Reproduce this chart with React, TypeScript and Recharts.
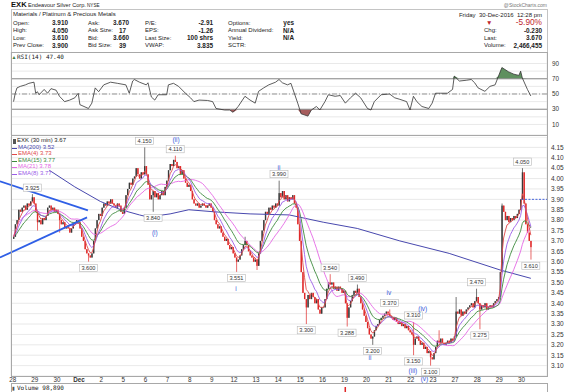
import React from 'react';
import { ComposedChart, Bar, Line, Area, XAxis, YAxis, CartesianGrid, ReferenceLine, ReferenceDot } from 'recharts';

const FONT = '"Liberation Sans", Arial, Helvetica, sans-serif';
const MONO = '"DejaVu Sans Mono", "Liberation Mono", monospace';

// ---------------- data ----------------
const dayLabels = ['28', '29', '30', 'Dec', '2', '5', '6', '7', '8', '9', '12', '13', '14', '15', '16', '19', '20', '21', '22', '23', '27', '28', '29', '30'];

// 30-minute closes, 13 bars per session (last session partial)
const dayCloses: number[][] = [
  [3.72, 3.78, 3.80, 3.85, 3.84, 3.86, 3.87, 3.85, 3.88, 3.87, 3.89, 3.91, 3.88],
  [3.84, 3.79, 3.80, 3.78, 3.81, 3.80, 3.82, 3.86, 3.87, 3.85, 3.86, 3.84, 3.85],
  [3.83, 3.80, 3.78, 3.79, 3.76, 3.77, 3.76, 3.74, 3.76, 3.78, 3.79, 3.80, 3.79],
  [3.76, 3.72, 3.70, 3.66, 3.64, 3.63, 3.62, 3.64, 3.70, 3.76, 3.80, 3.83, 3.82],
  [3.86, 3.88, 3.87, 3.89, 3.88, 3.90, 3.88, 3.87, 3.86, 3.88, 3.87, 3.84, 3.83],
  [3.86, 3.92, 3.95, 3.98, 3.97, 4.00, 4.01, 4.05, 4.02, 4.00, 4.03, 4.02, 4.06],
  [4.02, 3.97, 3.90, 3.92, 3.94, 3.91, 3.93, 3.90, 3.92, 3.94, 3.92, 3.96, 3.99],
  [4.04, 4.07, 4.06, 4.09, 4.08, 4.05, 4.06, 4.02, 4.04, 4.00, 3.98, 3.96, 3.97],
  [3.94, 3.90, 3.88, 3.87, 3.88, 3.86, 3.87, 3.88, 3.87, 3.86, 3.87, 3.88, 3.86],
  [3.84, 3.80, 3.78, 3.76, 3.77, 3.74, 3.72, 3.70, 3.71, 3.68, 3.66, 3.67, 3.64],
  [3.62, 3.60, 3.61, 3.63, 3.66, 3.68, 3.70, 3.68, 3.65, 3.63, 3.62, 3.60, 3.61],
  [3.58, 3.64, 3.70, 3.75, 3.80, 3.84, 3.83, 3.86, 3.85, 3.87, 3.86, 3.88, 3.87],
  [3.93, 3.91, 3.94, 3.90, 3.92, 3.89, 3.91, 3.90, 3.92, 3.88, 3.86, 3.78, 3.70],
  [3.55, 3.45, 3.42, 3.38, 3.44, 3.42, 3.45, 3.43, 3.40, 3.42, 3.37, 3.35, 3.38],
  [3.38, 3.42, 3.47, 3.50, 3.49, 3.50, 3.47, 3.48, 3.46, 3.48, 3.47, 3.45, 3.46],
  [3.40, 3.33, 3.38, 3.41, 3.44, 3.46, 3.45, 3.47, 3.43, 3.40, 3.37, 3.34, 3.31],
  [3.28, 3.25, 3.23, 3.24, 3.27, 3.29, 3.30, 3.32, 3.33, 3.34, 3.35, 3.36, 3.35],
  [3.34, 3.33, 3.32, 3.33, 3.31, 3.30, 3.31, 3.29, 3.30, 3.28, 3.29, 3.27, 3.26],
  [3.25, 3.20, 3.23, 3.24, 3.22, 3.20, 3.21, 3.18, 3.19, 3.16, 3.17, 3.14, 3.13],
  [3.16, 3.19, 3.22, 3.21, 3.23, 3.21, 3.20, 3.21, 3.22, 3.21, 3.23, 3.22, 3.24],
  [3.36, 3.35, 3.37, 3.34, 3.36, 3.35, 3.37, 3.38, 3.39, 3.40, 3.38, 3.41, 3.43],
  [3.40, 3.37, 3.39, 3.38, 3.40, 3.37, 3.38, 3.39, 3.38, 3.40, 3.41, 3.42, 3.43],
  [3.55, 3.87, 3.84, 3.80, 3.82, 3.79, 3.81, 3.80, 3.82, 3.81, 3.83, 3.85, 3.90],
  [4.03, 3.88, 3.78, 3.74, 3.70, 3.67],
];
const firstOpen = 3.71;

// [bar index, price]
const wickHighs: [number, number][] = [
  [11, 3.925], [77, 4.15], [95, 4.11], [136, 3.72], [156, 3.99], [186, 3.54], [202, 3.49],
  [221, 3.37], [235, 3.31], [250, 3.27], [260, 3.43], [272, 3.47], [287, 3.88], [299, 4.05],
];
const wickLows: [number, number][] = [
  [14, 3.75], [27, 3.74], [44, 3.60], [82, 3.84], [131, 3.551], [143, 3.56], [172, 3.30],
  [196, 3.288], [211, 3.20], [235, 3.15], [245, 3.10], [274, 3.275], [304, 3.61],
];

// MA(200) read at points [bar, value]
const ma200Points: [number, number][] = [
  [21, 4.04], [36, 3.96], [51, 3.89], [63, 3.85], [74, 3.825], [79, 3.815], [92, 3.83], [103, 3.85],
  [118, 3.84], [139, 3.83], [162, 3.825], [182, 3.79], [202, 3.76], [227, 3.70], [256, 3.64], [286, 3.56], [304, 3.52],
];

// RSI(14) read at points [bar, value]
const rsiPoints: [number, number][] = [
  [0, 40], [1, 51], [2, 58], [4, 60], [7, 62], [9, 64], [12, 65.5], [13, 51], [14, 53], [15, 49], [18, 56], [20, 51],
  [22, 57], [25, 55], [27, 47], [30, 40], [33, 42], [36, 45], [38, 51], [39, 36], [44, 31], [46, 38], [48, 58], [50, 53],
  [53, 62], [57, 65.5], [61, 64], [66, 62], [68, 51], [70, 67], [71, 69], [74, 65.5], [78, 62], [79, 64.7], [81, 46],
  [83, 42], [85, 49], [90, 49], [91, 62], [94, 64], [97, 60], [101, 51], [104, 45], [106, 40], [109, 42], [114, 41.5],
  [117, 40], [119, 31], [124, 29], [127, 29], [129, 26], [132, 33.6], [136, 47], [139, 42], [142, 38], [144, 53.5],
  [147, 58], [150, 62], [154, 65.5], [156, 69], [158, 64.7], [161, 62], [163, 64], [165, 51], [167, 38], [169, 24],
  [173, 21], [175, 29], [178, 33.6], [180, 29], [183, 40], [185, 49], [189, 47], [192, 48], [195, 38], [198, 45],
  [201, 51], [204, 45], [208, 31], [210, 29], [212, 40], [216, 49], [221, 50], [224, 45], [227, 43], [231, 40],
  [233, 29], [235, 47], [237, 40], [240, 33.6], [244, 31], [246, 38], [248, 51], [251, 51], [255, 51], [258, 56],
  [259, 73.5], [262, 67], [266, 68], [269, 69], [271, 64.7], [273, 58], [277, 53.5], [280, 60], [283, 62], [285, 73.5],
  [287, 84.7], [291, 79], [294, 76], [297, 74.4], [298, 80], [299, 71], [302, 56], [304, 47.4],
];

const priceTicks = [3.10, 3.15, 3.20, 3.25, 3.30, 3.35, 3.40, 3.45, 3.50, 3.55, 3.60, 3.65, 3.70, 3.75, 3.80, 3.85, 3.90, 3.95, 4.00, 4.05, 4.10, 4.15];
const priceDomain: [number, number] = [3.05, 4.2];
const rsiGridTicks = [10, 20, 30, 40, 50, 60, 70, 80, 90];
const rsiTicks = [10, 30, 50, 70, 90];

const priceTags: [number, number, string, 'above' | 'below'][] = [
  [11, 3.925, '3.925', 'above'], [44, 3.60, '3.600', 'below'], [77, 4.15, '4.150', 'above'],
  [82, 3.84, '3.840', 'below'], [95, 4.11, '4.110', 'above'], [131, 3.551, '3.551', 'below'],
  [156, 3.99, '3.990', 'above'], [172, 3.30, '3.300', 'below'], [186, 3.54, '3.540', 'above'],
  [196, 3.288, '3.288', 'below'], [202, 3.49, '3.490', 'above'], [211, 3.20, '3.200', 'below'],
  [221, 3.37, '3.370', 'above'], [235, 3.31, '3.310', 'above'], [235, 3.15, '3.150', 'below'],
  [245, 3.10, '3.100', 'below'], [272, 3.47, '3.470', 'above'], [274, 3.275, '3.275', 'below'],
  [299, 4.05, '4.050', 'above'], [304, 3.61, '3.610', 'below'],
];

// Elliott wave marks [bar, price, text]
const waveLabels: [number, number, string][] = [
  [95.5, 4.185, '(ii)'], [83, 3.738, '(i)'], [130.7, 3.472, 'i'], [156, 4.05, 'ii'], [209.5, 3.136, 'ii'],
  [220.6, 3.449, 'iv'], [240.5, 3.376, '(iv)'], [234.7, 3.076, '(iii)'], [241.5, 3.038, '(v)'],
];

// trendlines in [bar-slot, price]
const upperTrend: [number, number][] = [[-6.5, 3.987], [45.2, 3.847]];
const lowerTrend: [number, number][] = [[-6.5, 3.62], [44.7, 3.813]];
const prevClose = 3.90;

const volumeBars: [number, number][] = [[195, 2100000]];

const legendRows = [
  { key: 'ma200', text: 'MA(200) 3.52' },
  { key: 'ema4', text: 'EMA(4) 3.73' },
  { key: 'ema15', text: 'EMA(15) 3.77' },
  { key: 'ma21', text: 'MA(21) 3.78' },
  { key: 'ema8', text: 'EMA(8) 3.77' },
];

const headerCols = [
  { lx: 13, vx: 68, rows: [['Open:', '3.910'], ['High:', '4.050'], ['Low:', '3.610'], ['Prev Close:', '3.900']] },
  { lx: 88, vx: 129, rows: [['Ask:', '3.670'], ['Ask Size:', '17'], ['Bid:', '3.660'], ['Bid Size:', '39']] },
  { lx: 145, vx: 213, rows: [['P/E:', '-2.91'], ['EPS:', '-1.26'], ['Last Size:', '100 shrs'], ['VWAP:', '3.835']] },
  { lx: 228, vx: 294, rows: [['Options:', 'yes'], ['Annual Dividend:', 'N/A'], ['Yield:', 'N/A'], ['SCTR:', '']] },
];
const rightRows = [['Chg:', '-0.230'], ['Last:', '3.670'], ['Volume:', '2,466,455']];

// ---------------- styles ----------------
const C: Record<string, string> = {
  ma200: '#4848ae', ema4: '#e04848', ema15: '#3d8a3d', ma21: '#e466e4', ema8: '#9b5de8',
  up: '#3a3a3a', down: '#e02828', trend: '#2f5fe6', wave: '#3b5bd9', grid: '#e3e3e3', border: '#a8a8a8',
  rsiUp: '#5f905f', rsiDn: '#a65c5c',
};

// ---------------- derived ----------------
const SLOTS = 315; // 1 pad + bars + trailing pad
const closes = dayCloses.flat();
const N = closes.length;
const hiMap = new Map(wickHighs);
const loMap = new Map(wickLows);
const emaOf = (n: number) => {
  const a = 2 / (n + 1);
  let e = closes[0];
  return closes.map((c, i) => (e = i === 0 ? c : a * c + (1 - a) * e));
};
const e4 = emaOf(4), e8 = emaOf(8), e15 = emaOf(15);
const m21 = closes.map((_, i) => {
  const s = closes.slice(Math.max(0, i - 20), i + 1);
  return s.reduce((a, b) => a + b, 0) / s.length;
});
const maMap = new Map(ma200Points);
const volMap = new Map(volumeBars);
const dayTicks = dayLabels.map((_, d) => 13 * d + 1);

const mainData = Array.from({ length: SLOTS }, (_, s) => {
  const k = s - 1;
  const base: any = { slot: s, slotC: s + 0.5 };
  if (k < 0 || k >= N) return base;
  const o = k === 0 ? firstOpen : closes[k - 1];
  const c = closes[k];
  const high = Math.max(o, c, hiMap.has(k) ? (hiMap.get(k) as number) : -Infinity);
  const low = Math.min(o, c, loMap.has(k) ? (loMap.get(k) as number) : Infinity);
  return {
    ...base, o, c, high, low, range: [low, high],
    ema4: e4[k], ema8: e8[k], ema15: e15[k], ma21: m21[k],
    ma200: maMap.has(k) ? maMap.get(k) : null,
    vol: volMap.has(k) ? volMap.get(k) : null,
  };
});

const rsiData = rsiPoints.map(([b, v]) => ({ s: b + 1.5, v, up: Math.max(v, 70), dn: Math.min(v, 30) }));

// ---------------- pieces ----------------
const Candle = (p: any) => {
  const { x, y, width, height, payload } = p;
  if (!payload || payload.o == null || !isFinite(y) || !isFinite(height)) return null;
  const { o, c, high, low } = payload;
  const cx = x + width / 2;
  const h = Math.abs(height);
  const top = Math.min(y, y + height);
  const span = high - low;
  const ppu = span > 0 ? h / span : 0;
  const bt = top + (high - Math.max(o, c)) * ppu;
  const bb = top + (high - Math.min(o, c)) * ppu;
  const color = c >= o ? C.up : C.down;
  return (
    <g>
      <line x1={cx} x2={cx} y1={top} y2={top + h} stroke={color} strokeWidth={0.7} />
      <rect x={cx - 0.7} y={bt} width={1.4} height={Math.max(0.7, bb - bt)} fill={color} />
    </g>
  );
};

const DayLabel = (p: any) => {
  const { cx, cy, text } = p;
  if (!isFinite(cx) || !isFinite(cy)) return null;
  return (
    <text x={cx} y={cy} dy={6.3} textAnchor="middle" fontSize={6.3} fill="#333" fontFamily={FONT} fontWeight={text === 'Dec' ? 700 : 400}>
      {text}
    </text>
  );
};

const PriceTag = (p: any) => {
  const { cx, cy, text, pos } = p;
  if (!isFinite(cx) || !isFinite(cy)) return null;
  const ty = pos === 'above' ? cy - 6.5 : cy + 6.2;
  const w = text.length * 3.2 + 2;
  return (
    <g>
      <rect x={cx - w / 2} y={ty - 3.6} width={w} height={7.2} fill="#fff" stroke="#b8b8b8" strokeWidth={0.6} />
      <text x={cx} y={ty} dy="0.35em" textAnchor="middle" fontSize={5.6} fill="#333" fontFamily={FONT}>{text}</text>
    </g>
  );
};

const WaveTag = (p: any) => {
  const { cx, cy, text } = p;
  if (!isFinite(cx) || !isFinite(cy)) return null;
  return (
    <text x={cx} y={cy} dy="0.35em" textAnchor="middle" fontSize={6.5} fill={C.wave} fontFamily={FONT}>{text}</text>
  );
};

function MainChart() {
  return (
    <ComposedChart width={585} height={253} data={mainData} margin={{ top: 0, right: 0, bottom: 14, left: 11 }} barCategoryGap={0}>
      <CartesianGrid xAxisId="num" stroke={C.grid} strokeWidth={0.8} />
      <XAxis xAxisId="cat" dataKey="slot" type="category" hide />
      <XAxis xAxisId="num" dataKey="slotC" type="number" domain={[0, SLOTS]} allowDataOverflow ticks={dayTicks} interval={0}
        height={0} tick={false} tickLine={false} axisLine={false} />
      <YAxis orientation="right" width={38} domain={priceDomain} allowDataOverflow ticks={priceTicks} interval={0}
        tickSize={0} tickMargin={4} axisLine={false} tickLine={false}
        tick={{ fontSize: 6.5, fill: '#333', fontFamily: FONT }} tickFormatter={(v: number) => v.toFixed(2)} />
      <Bar xAxisId="cat" dataKey="range" shape={(p: any) => <Candle {...p} />} isAnimationActive={false} />
      <Line xAxisId="cat" dataKey="ma200" stroke={C.ma200} strokeWidth={1} dot={false} connectNulls isAnimationActive={false} />
      <Line xAxisId="cat" dataKey="ma21" stroke={C.ma21} strokeWidth={0.9} dot={false} isAnimationActive={false} />
      <Line xAxisId="cat" dataKey="ema15" stroke={C.ema15} strokeWidth={0.9} dot={false} isAnimationActive={false} />
      <Line xAxisId="cat" dataKey="ema8" stroke={C.ema8} strokeWidth={0.9} dot={false} isAnimationActive={false} />
      <Line xAxisId="cat" dataKey="ema4" stroke={C.ema4} strokeWidth={0.9} dot={false} isAnimationActive={false} />
      <ReferenceLine xAxisId="num" ifOverflow="visible" stroke={C.trend} strokeWidth={1.8}
        segment={[{ x: upperTrend[0][0], y: upperTrend[0][1] }, { x: upperTrend[1][0], y: upperTrend[1][1] }]} />
      <ReferenceLine xAxisId="num" ifOverflow="visible" stroke={C.trend} strokeWidth={1.8}
        segment={[{ x: lowerTrend[0][0], y: lowerTrend[0][1] }, { x: lowerTrend[1][0], y: lowerTrend[1][1] }]} />
      <ReferenceLine xAxisId="num" ifOverflow="visible" stroke="#3355dd" strokeWidth={0.9} strokeDasharray="2 1.5"
        segment={[{ x: dayTicks[dayTicks.length - 1], y: prevClose }, { x: SLOTS, y: prevClose }]} />
      {priceTags.map(([b, price, text, pos], i) => (
        <ReferenceDot key={'pt' + i} xAxisId="num" x={b + 1.5} y={price} r={1} ifOverflow="visible"
          shape={(p: any) => <PriceTag {...p} text={text} pos={pos} />} />
      ))}
      {waveLabels.map(([b, price, text], i) => (
        <ReferenceDot key={'wv' + i} xAxisId="num" x={b + 1.5} y={price} r={1} ifOverflow="visible"
          shape={(p: any) => <WaveTag {...p} text={text} />} />
      ))}
      {dayLabels.map((lab, d) => (
        <ReferenceDot key={'dl' + d} xAxisId="num" x={dayTicks[d]} y={priceDomain[0]} r={1} ifOverflow="visible"
          shape={(p: any) => <DayLabel {...p} text={lab} />} />
      ))}
    </ComposedChart>
  );
}

function RsiChart() {
  return (
    <ComposedChart width={585} height={83} data={rsiData} margin={{ top: 0, right: 0, bottom: 0, left: 11 }}>
      <CartesianGrid stroke={C.grid} strokeWidth={0.8} />
      <XAxis dataKey="s" type="number" domain={[0, SLOTS]} allowDataOverflow ticks={dayTicks} interval={0}
        height={0} tick={false} tickLine={false} axisLine={false} />
      <YAxis orientation="right" width={38} domain={[-3.8, 105.1]} allowDataOverflow ticks={rsiGridTicks} interval={0}
        tickSize={0} tickMargin={5} axisLine={false} tickLine={false}
        tick={{ fontSize: 6.3, fill: '#333', fontFamily: FONT }}
        tickFormatter={(v: number) => (rsiTicks.includes(v) ? String(v) : '')} />
      <Area dataKey="up" baseValue={70} stroke="none" fill={C.rsiUp} fillOpacity={1} isAnimationActive={false} />
      <Area dataKey="dn" baseValue={30} stroke="none" fill={C.rsiDn} fillOpacity={1} isAnimationActive={false} />
      <ReferenceLine y={70} stroke="#8c8c8c" strokeWidth={1} />
      <ReferenceLine y={30} stroke="#8c8c8c" strokeWidth={1} />
      <ReferenceLine y={50} stroke="#8c8c8c" strokeWidth={0.9} strokeDasharray="5 2 1 2" />
      <Line dataKey="v" stroke="#333" strokeWidth={0.8} dot={false} isAnimationActive={false} />
    </ComposedChart>
  );
}

function VolChart() {
  return (
    <ComposedChart width={585} height={9} data={mainData} margin={{ top: 0, right: 38, bottom: 0, left: 11 }} barCategoryGap={0}>
      <XAxis dataKey="slot" type="category" hide />
      <YAxis hide domain={[0, 3800000]} allowDataOverflow />
      <Bar dataKey="vol" fill={C.down} barSize={2} isAnimationActive={false} />
    </ComposedChart>
  );
}

const Txt = ({ x, y, children, size = 6.2, color = '#222', bold = false, align = 'left', family = FONT }: any) => {
  const style: React.CSSProperties = {
    position: 'absolute', top: y - size * 0.6, fontSize: size, lineHeight: `${size * 1.2}px`, color,
    fontWeight: bold ? 700 : 400, whiteSpace: 'nowrap', fontFamily: family,
  };
  if (align === 'right') style.right = 585 - x; else style.left = x;
  return <div style={style}>{children}</div>;
};

const Box = ({ l, t, w, h, color = C.border }: any) => (
  <div style={{ position: 'absolute', left: l, top: t, width: w, height: h, border: `1px solid ${color}`, boxSizing: 'border-box', pointerEvents: 'none' }} />
);

const rowY = [23.3, 30.8, 38.2, 45.5];
const legendY = [147.5, 154, 160.5, 167, 173.5];

export default function App() {
  return (
    <div style={{ position: 'absolute', left: 0, top: 0, width: 585, height: 392, background: '#fff', overflow: 'hidden', fontFamily: FONT }}>
      {/* title */}
      <Txt x={11} y={5} size={7.6} bold color="#111">EXK</Txt>
      <Txt x={28} y={5.2} size={5.6} color="#222">Endeavour Silver Corp.</Txt>
      <Txt x={87} y={5.4} size={4.6} color="#222">NYSE</Txt>
      <Txt x={547} y={5} size={5} color="#777" align="right">@StockCharts.com</Txt>

      <Box l={11} t={9} w={537} h={44} color="#c4c4c4" />
      <Txt x={13} y={15} size={6}>Materials / Platinum &amp; Precious Metals</Txt>
      {headerCols.map((col, ci) => col.rows.map(([lab, val], ri) => (
        <React.Fragment key={`h${ci}-${ri}`}>
          <Txt x={col.lx} y={rowY[ri]} size={6}>{lab}</Txt>
          <Txt x={ci === 1 && (ri === 1 || ri === 3) ? col.vx - 3 : col.vx} y={rowY[ri]} size={6.4} bold align="right">{val}</Txt>
        </React.Fragment>
      )))}
      <Txt x={542} y={15.2} size={6} align="right">Friday&nbsp; 30-Dec-2016&nbsp; 12:28 pm</Txt>
      <Txt x={486} y={22.8} size={6.5} color="#c0282d">▼</Txt>
      <Txt x={542} y={22.8} size={8.3} color="#c0282d" align="right">-5.90%</Txt>
      {rightRows.map(([lab, val], i) => (
        <React.Fragment key={'r' + i}>
          <Txt x={484} y={rowY[i + 1]} size={6}>{lab}</Txt>
          <Txt x={542} y={rowY[i + 1]} size={6.4} bold align="right">{val}</Txt>
        </React.Fragment>
      ))}

      {/* RSI panel */}
      <div style={{ position: 'absolute', left: 0, top: 52 }}><RsiChart /></div>
      <Box l={11} t={52} w={537} h={84} />
      <Txt x={11.5} y={57} size={5} color="#3d7a3d">▲</Txt>
      <Txt x={17} y={57} size={6} family={MONO} color="#222">RSI(14) 47.40</Txt>

      {/* main panel */}
      <div style={{ position: 'absolute', left: 0, top: 137 }}><MainChart /></div>
      <Box l={11} t={135} w={537} h={242} />
      <div style={{ position: 'absolute', left: 12.5, top: 139, width: 3, height: 5, background: '#555' }} />
      <Txt x={17} y={141} size={6} color="#222">EXK (30 min) 3.67</Txt>
      {legendRows.map((r, i) => (
        <React.Fragment key={r.key}>
          <div style={{ position: 'absolute', left: 12, top: legendY[i], width: 5, height: 1, background: C[r.key] }} />
          <Txt x={18} y={legendY[i]} size={6} color={C[r.key]}>{r.text}</Txt>
        </React.Fragment>
      ))}

      {/* volume strip */}
      <div style={{ position: 'absolute', left: 0, top: 383 }}><VolChart /></div>
      <Box l={11} t={383} w={537} h={20} />
      <Txt x={12} y={387.5} size={5} color="#555">▮</Txt>
      <Txt x={17} y={387.5} size={6} family={MONO} color="#222">Volume 98,890</Txt>
    </div>
  );
}
